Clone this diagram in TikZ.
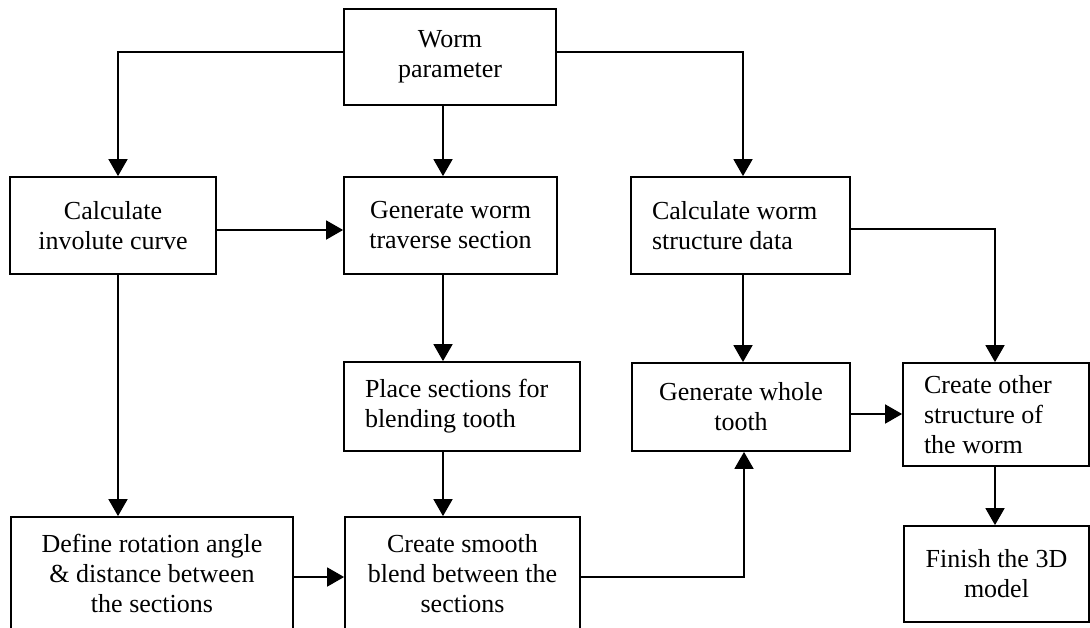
\documentclass[tikz,border=0pt]{standalone}
\usepackage{fontspec}
\setmainfont{Liberation Serif}
\usetikzlibrary{arrows.meta,calc}
\begin{document}
\begin{tikzpicture}[x=1pt,y=-1pt,
  box/.style={draw, line width=1.8pt, inner sep=0pt, align=flush center,
    font=\fontsize{26}{30}\selectfont},
  lbox/.style={box, align=flush left, inner xsep=21pt},
  arr/.style={line width=1.8pt, -{Triangle[length=17pt,width=19pt]}},
]
\useasboundingbox (0,0) rectangle (1090,627);
\fill[white] (0,0) rectangle (1090,627);

\node[box, minimum width=212pt, minimum height=96pt] (worm) at (450,57) {Worm\\parameter};
\node[box, minimum width=206pt, minimum height=97pt] (involute) at (113,225.5) {Calculate\\involute curve};
\node[box, minimum width=213pt, minimum height=97pt] (traverse) at (450.5,225.5) {Generate worm\\traverse section};
\node[lbox, text width=177pt, minimum height=97pt] (structure) at (740.5,225.5) {Calculate worm\\structure data};
\node[lbox, text width=194pt, minimum height=89pt] (place) at (462,406.5) {Place sections for\\blending tooth};
\node[box, minimum width=218pt, minimum height=88pt] (whole) at (741,407) {Generate whole\\tooth};
\node[lbox, text width=144pt, minimum height=103pt] (other) at (996,414.5) {Create other\\structure of\\the worm};
\node[box, minimum width=185pt, minimum height=96pt] (finish) at (996.5,574) {Finish the 3D\\model};
\node[box, minimum width=282pt, minimum height=113pt] (define) at (152,573.5) {Define rotation angle\\\& distance between\\the sections};
\node[box, minimum width=235pt, minimum height=113pt] (smooth) at (462.5,573.5) {Create smooth\\blend between the\\sections};

\coordinate (p1) at ($(worm.west)+(0,-5)$);
\coordinate (p2) at ($(involute.north)+(5,0)$);
\coordinate (p3) at ($(worm.south)+(-7,0)$);
\coordinate (p4) at ($(worm.east)+(0,-5)$);
\coordinate (p5) at ($(structure.north)+(2.5,0)$);
\coordinate (p6) at ($(involute.east)+(0,4.5)$);
\coordinate (p7) at ($(involute.south)+(5,0)$);
\coordinate (p8) at ($(traverse.south)+(-7.5,0)$);
\coordinate (p9) at ($(place.south)+(-19,0)$);
\coordinate (p10) at ($(define.east)+(0,3.5)$);
\coordinate (p11) at ($(smooth.east)+(0,3.5)$);
\coordinate (p12) at ($(whole.south)+(3,0)$);
\coordinate (p13) at ($(structure.south)+(2.5,0)$);
\coordinate (p14) at ($(structure.east)+(0,3.5)$);
\coordinate (p15) at ($(other.north)+(-1,0)$);
\coordinate (p16) at ($(whole.east)+(0,7)$);
\coordinate (p17) at ($(other.south)+(-1,0)$);

\draw[arr] (p1) -| (p2);
\draw[arr] (p3) -- (p3 |- traverse.north);
\draw[arr] (p4) -| (p5);
\draw[arr] (p6) -- (p6 -| traverse.west);
\draw[arr] (p7) -- (p7 |- define.north);
\draw[arr] (p8) -- (p8 |- place.north);
\draw[arr] (p9) -- (p9 |- smooth.north);
\draw[arr] (p10) -- (p10 -| smooth.west);
\draw[arr] (p11) -| (p12);
\draw[arr] (p13) -- (p13 |- whole.north);
\draw[arr] (p14) -| (p15);
\draw[arr] (p16) -- (p16 -| other.west);
\draw[arr] (p17) -- (p17 |- finish.north);
\end{tikzpicture}
\end{document}
